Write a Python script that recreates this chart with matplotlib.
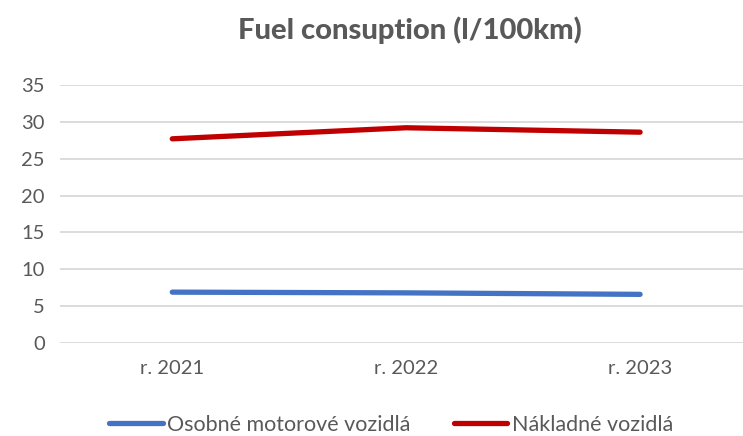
import matplotlib.pyplot as plt

# data
years = ['r. 2021', 'r. 2022', 'r. 2023']
osobne = [6.9, 6.8, 6.6]
nakladne = [27.7, 29.2, 28.6]
y_ticks = [0, 5, 10, 15, 20, 25, 30, 35]

plt.rcParams['font.family'] = ['Lato', 'DejaVu Sans']
text_color = '#595959'

fig = plt.figure(figsize=(7.43, 4.36), dpi=100)
ax = fig.add_axes([60 / 743, 93 / 436, 683 / 743, 258 / 436])

x = range(len(years))
ax.plot(x, osobne, color='#4472C4', linewidth=3.8, solid_capstyle='round',
        label='Osobné motorové vozidlá')
ax.plot(x, nakladne, color='#C00000', linewidth=3.8, solid_capstyle='round',
        label='Nákladné vozidlá')

ax.set_xlim(-0.48, 2.44)
ax.set_ylim(0, 35)
ax.set_yticks(y_ticks)
ax.set_xticks(list(x))
ax.set_xticklabels(years)
ax.grid(axis='y', color='#D9D9D9', linewidth=1.3)
ax.set_axisbelow(True)
for s in ax.spines.values():
    s.set_visible(False)
ax.tick_params(length=0, labelsize=14.5, colors=text_color)
ax.tick_params(axis='y', pad=11)
ax.tick_params(axis='x', pad=12)

fig.text(410 / 743, 1 - 30 / 436, 'Fuel consuption (l/100km)', ha='center', va='center',
         fontsize=21, fontweight='black', color=text_color)

leg = fig.legend(loc='center', bbox_to_anchor=(391 / 743, 1 - 425 / 436), ncol=2,
                 frameon=False, fontsize=15.5, handlelength=2.5, handletextpad=0.2,
                 columnspacing=2.0, labelcolor=text_color)

fig.savefig('out.png', dpi=100)
